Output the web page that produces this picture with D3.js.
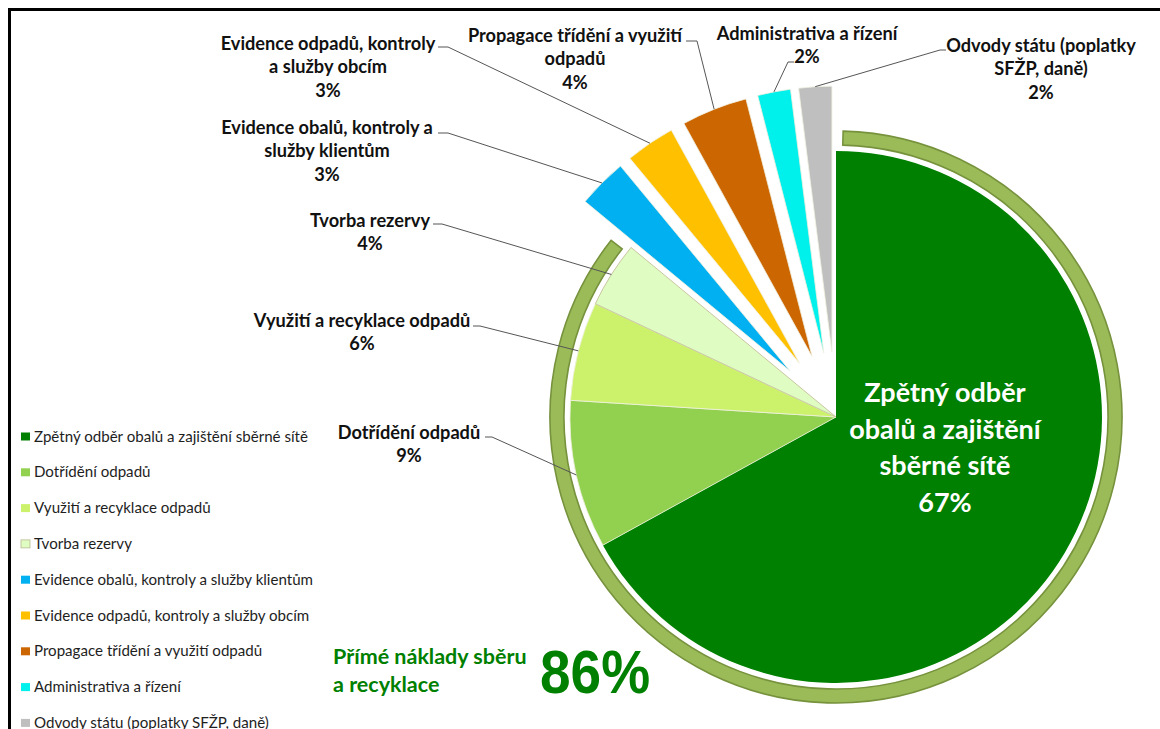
<!DOCTYPE html>
<html><head><meta charset="utf-8">
<script src="https://cdn.jsdelivr.net/npm/d3@7"></script>
<style>
html,body{margin:0;padding:0;background:#fff;}
svg{display:block;}
</style></head>
<body>
<svg id="chart" width="1160" height="729"></svg>
<script>
// ---- data ----
const categories = [
  "Zpětný odběr obalů a zajištění sběrné sítě",
  "Dotřídění odpadů",
  "Využití a recyklace odpadů",
  "Tvorba rezervy",
  "Evidence obalů, kontroly a služby klientům",
  "Evidence odpadů, kontroly a služby obcím",
  "Propagace třídění a využití odpadů",
  "Administrativa a řízení",
  "Odvody státu (poplatky SFŽP, daně)"
];
const values = [67, 9, 6, 4, 3, 3, 4, 2, 2];
const exploded = [false, false, false, false, true, true, true, true, true];
const labelLines = [
  ["Zpětný odběr", "obalů a zajištění", "sběrné sítě"],
  ["Dotřídění odpadů"],
  ["Využití a recyklace odpadů"],
  ["Tvorba rezervy"],
  ["Evidence obalů, kontroly a", "služby klientům"],
  ["Evidence odpadů, kontroly", "a služby obcím"],
  ["Propagace třídění a využití", "odpadů"],
  ["Administrativa a řízení"],
  ["Odvody státu (poplatky", "SFŽP, daně)"]
];
const directShare = 86;
const directLabel = ["Přímé náklady sběru", "a recyklace"];

// ---- styles ----
const colors = ["#008000", "#92D050", "#CCF26C", "#DFFCC2", "#00B0F0", "#FFC000", "#CC6600", "#00F0EC", "#BFBFBF"];
const svg = d3.select("#chart");
const cx = 836, cy = 417, R = 266, explodeDist = 65;
const fontBold = "Lato, 'Open Sans', sans-serif";

// border
svg.append("path").attr("d", "M9.5,729 L9.5,9.5 L1160,9.5")
  .attr("fill", "none").attr("stroke", "#000").attr("stroke-width", 3);

const pie = d3.pie().sort(null).value(d => d)(values);
const arc = d3.arc().innerRadius(0).outerRadius(R);
const g = svg.append("g").attr("transform", `translate(${cx},${cy})`);

// ring around direct-cost slices
const directEnd = d3.sum(values.slice(0, 4)) / d3.sum(values) * 2 * Math.PI;
g.append("path")
  .attr("d", d3.arc().innerRadius(R + 6).outerRadius(R + 20)({startAngle: 0.025, endAngle: directEnd - 0.025}))
  .attr("fill", "#9BBB59").attr("stroke", "#76923C").attr("stroke-width", 1.6);

function offsetOf(d, i) {
  if (!exploded[i]) return [0, 0];
  const a = (d.startAngle + d.endAngle) / 2;
  return [Math.sin(a) * explodeDist, -Math.cos(a) * explodeDist];
}

g.selectAll("path.slice").data(pie).enter().append("path")
  .attr("class", "slice")
  .attr("d", arc)
  .attr("transform", (d, i) => { const o = offsetOf(d, i); return `translate(${o[0]},${o[1]})`; })
  .attr("fill", (d, i) => colors[i])
  .attr("stroke", (d, i) => i === 3 ? "#C9C6A0" : (i === 0 ? "none" : "#F0F0E0"))
  .attr("stroke-width", (d, i) => i === 3 ? 1 : 0.8);

// ---- data labels (layout) ----
const labelLayout = {
  1: {x: 409, y: 432, lead: [[485, 437], [492, 437]]},
  2: {x: 362, y: 320, lead: [[473, 326], [480, 326]]},
  3: {x: 370, y: 220, lead: [[433, 224], [442, 224]]},
  4: {x: 327, y: 127, lead: [[438, 133], [448, 133]]},
  5: {x: 328, y: 43, lead: [[438, 47], [448, 47]]},
  6: {x: 575, y: 35, lead: [[686, 41], [697, 41]]},
  7: {x: 807, y: 33, lead: [[794, 62], [788, 62]]},
  8: {x: 1041, y: 45, lead: [[946, 50], [940, 50]]}
};
const lh = 23.5;
const total = d3.sum(values);
pie.forEach((d, i) => {
  const L = labelLayout[i];
  if (!L) return;
  const lines = labelLines[i].concat([Math.round(values[i] / total * 100) + "%"]);
  const t = svg.append("text")
    .attr("font-family", fontBold).attr("font-weight", "bold").attr("font-size", 18.2)
    .attr("fill", "#111").attr("text-anchor", "middle");
  lines.forEach((s, k) => {
    t.append("tspan").attr("x", L.x).attr("y", L.y + k * lh + 6.5).text(s);
  });
  const a = (d.startAngle + d.endAngle) / 2;
  const o = offsetOf(d, i);
  const end = [cx + Math.sin(a) * R + o[0], cy - Math.cos(a) * R + o[1]];
  svg.append("path")
    .attr("d", d3.line()([L.lead[0], L.lead[1], end]))
    .attr("fill", "none").attr("stroke", "#555").attr("stroke-width", 1);
});

// inside label for the main slice
const inner = svg.append("text")
  .attr("font-family", fontBold).attr("font-weight", "bold").attr("font-size", 27)
  .attr("fill", "#fff").attr("text-anchor", "middle");
labelLines[0].concat([Math.round(values[0] / total * 100) + "%"]).forEach((s, k) => {
  inner.append("tspan").attr("x", 945).attr("y", 393 + k * 36.5 + 9).text(s);
});

// ---- legend ----
const leg = svg.append("g");
categories.forEach((c, i) => {
  const y = 436.5 + i * 35.8;
  leg.append("rect").attr("x", 21).attr("y", y - 4).attr("width", 9).attr("height", 8)
    .attr("fill", colors[i]).attr("stroke", i === 3 ? "#B8B890" : "none").attr("stroke-width", 0.8);
  leg.append("text").attr("x", 34).attr("y", y + 5)
    .attr("font-family", fontBold).attr("font-size", 15.1).attr("fill", "#1e1e1e").text(c);
});

// ---- direct costs annotation ----
const dl = svg.append("text").attr("font-family", fontBold).attr("font-weight", "bold")
  .attr("font-size", 21.5).attr("fill", "#008000");
directLabel.forEach((s, k) => dl.append("tspan").attr("x", 333).attr("y", 664 + k * 28).text(s));
svg.append("text").attr("x", 540).attr("y", 693)
  .attr("font-family", "'Liberation Sans', Arial, sans-serif").attr("font-weight", "bold")
  .attr("font-size", 61).attr("fill", "#008000")
  .attr("textLength", 110).attr("lengthAdjust", "spacingAndGlyphs")
  .text(directShare + "%");
</script>
</body></html>
